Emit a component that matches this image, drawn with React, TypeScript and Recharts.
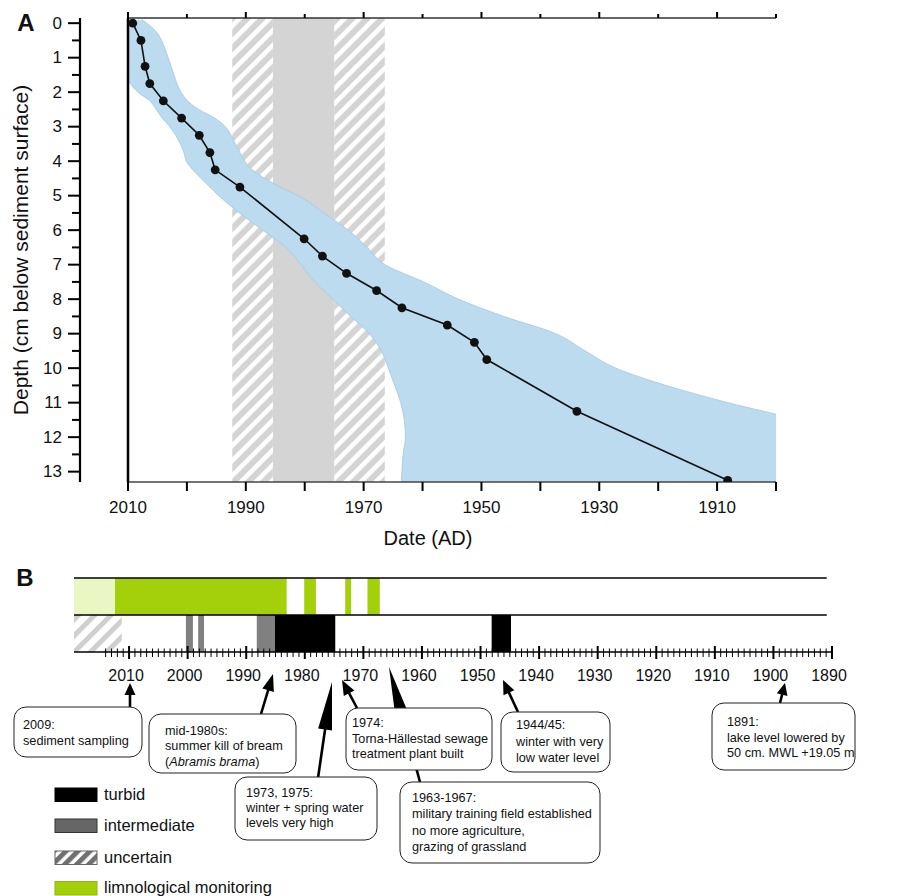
import React from 'react';
import { ComposedChart, Area, Line, XAxis, YAxis, ReferenceArea, ReferenceLine } from 'recharts';

const FONT = "'Liberation Sans', Arial, Helvetica, sans-serif";

// ---------- Panel A: age-depth model ----------
const sampleDepths = [0, 0.5, 1.25, 1.75, 2.25, 2.75, 3.25, 3.75, 4.25, 4.75, 6.25, 6.75, 7.25, 7.75, 8.25, 8.75, 9.25, 9.75, 11.25, 13.25];
const sampleYears = [2009.2, 2007.8, 2007.1, 2006.3, 2004.0, 2000.9, 1997.9, 1996.1, 1995.2, 1991.0, 1980.1, 1977.0, 1972.9, 1967.8, 1963.5, 1955.8, 1951.2, 1949.1, 1933.8, 1908.2];

const bandDepths = [-0.1, 0.25, 0.5, 0.75, 1.0, 1.25, 1.5, 1.75, 2.0, 2.25, 2.5, 2.75, 3.0, 3.25, 3.5, 3.75, 4.0, 4.25, 4.5, 4.75, 5.0, 5.5, 6.0, 6.5, 7.0, 7.5, 8.0, 8.5, 9.0, 9.5, 10.0, 10.5, 11.0, 11.5, 12.0, 12.5, 13.0, 13.3];
const bandYoungEdge = [2009.9, 2010.0, 2010.0, 2010.1, 2010.3, 2010.4, 2010.3, 2009.6, 2008.3, 2006.3, 2005.2, 2004.2, 2002.9, 2001.9, 2001.1, 2000.5, 2000.1, 1999.0, 1997.6, 1996.1, 1994.6, 1991.1, 1987.1, 1983.2, 1980.6, 1978.3, 1975.2, 1972.2, 1969.0, 1967.0, 1965.8, 1964.7, 1963.7, 1963.1, 1962.9, 1963.3, 1963.5, 1963.6];
const bandOldEdge = [2007.6, 2005.2, 2004.3, 2003.7, 2003.2, 2002.7, 2002.2, 2001.7, 2001.0, 1999.9, 1998.0, 1995.3, 1993.5, 1992.5, 1991.8, 1991.0, 1990.2, 1988.9, 1986.8, 1984.2, 1981.1, 1976.8, 1972.6, 1969.4, 1966.4, 1959.8, 1953.9, 1946.2, 1937.4, 1932.4, 1927.2, 1918.7, 1908.2, 1896.5, 1890, 1890, 1890, 1890];

const dateTicks = [2010, 2000, 1990, 1980, 1970, 1960, 1950, 1940, 1930, 1920, 1910, 1900];
const dateTickLabels = [2010, 1990, 1970, 1950, 1930, 1910];
const depthTicks = [0, 0.5, 1, 1.5, 2, 2.5, 3, 3.5, 4, 4.5, 5, 5.5, 6, 6.5, 7, 7.5, 8, 8.5, 9, 9.5, 10, 10.5, 11, 11.5, 12, 12.5, 13];
const uncertainWindows = [[1992.3, 1985.4], [1975.0, 1966.4]];
const greyWindows = [[1985.4, 1975.0]];

// ---------- Panel B: timeline ----------
const timelineMajorTicks = [2010, 2000, 1990, 1980, 1970, 1960, 1950, 1940, 1930, 1920, 1910, 1900, 1890];
const monitoringEarly = [[2019.4, 2012.4]];
const monitoringPeriods = [[2012.4, 1983.1], [1980.1, 1978.1], [1973.1, 1972.1], [1969.3, 1967.2]];
const uncertainPeriods = [[2019.4, 2011.25]];
const intermediatePeriods = [[2000.3, 1999.1], [1998.2, 1997.2], [1988.2, 1985.1]];
const turbidPeriods = [[1985.1, 1974.8], [1948.1, 1944.8]];

const timelineTicks: number[] = [];
for (let yr = 2014; yr >= 1890; yr--) timelineTicks.push(yr);

const bandData = bandDepths.map((d, i) => ({ depth: d, range: [bandYoungEdge[i], bandOldEdge[i]] }));
const sampleData = sampleDepths.map((d, i) => ({ depth: d, year: sampleYears[i] }));

// periods -> stepped ranged-area series (null rows break the area between periods)
function periodSeries(periods: number[][], lo: number, hi: number) {
  const out: { year: number; span: number[] | null }[] = [];
  periods.forEach(([a, b], i) => {
    if (i > 0) out.push({ year: (periods[i - 1][1] + a) / 2, span: null });
    out.push({ year: a, span: [lo, hi] });
    out.push({ year: b, span: [lo, hi] });
  });
  return out;
}

const DepthTick = (props: any) => {
  const { x, y, payload } = props;
  const v = payload.value;
  const major = Number.isInteger(v);
  return (
    <g>
      <line x1={x - (major ? 12 : 8)} x2={x} y1={y} y2={y} stroke="#000" strokeWidth={2} />
      {major && (
        <text x={x - 18} y={y} textAnchor="end" dominantBaseline="central" fontSize={17} fontFamily={FONT} fill="#111">{v}</text>
      )}
    </g>
  );
};

const DateTick = (props: any) => {
  const { x, y, payload } = props;
  const v = payload.value;
  return (
    <g>
      <line x1={x} x2={x} y1={y} y2={y + 9} stroke="#000" strokeWidth={2} />
      {dateTickLabels.includes(v) && (
        <text x={x} y={y + 25} textAnchor="middle" dominantBaseline="central" fontSize={17} fontFamily={FONT} fill="#111">{v}</text>
      )}
    </g>
  );
};

const TopTick = (props: any) => {
  const { x, y, payload } = props;
  const major = dateTickLabels.includes(payload.value);
  return <line x1={x} x2={x} y1={y} y2={y - (major ? 6 : 4)} stroke="#000" strokeWidth={2} />;
};

const TimelineTick = (props: any) => {
  const { x, y, payload } = props;
  const v = payload.value;
  const major = timelineMajorTicks.includes(v);
  return (
    <g>
      <line x1={x} x2={x} y1={y - (major ? 6 : 3.5)} y2={y + (major ? 7 : 5)} stroke="#000" strokeWidth={major ? 2 : 1} />
      {major && (
        <text x={x - 3} y={y + 23} textAnchor="middle" dominantBaseline="central" fontSize={16} fontFamily={FONT} fill="#111">{v}</text>
      )}
    </g>
  );
};

const DepthTitle = (props: any) => {
  const vb = props.viewBox || { x: 0, y: 18, width: 80, height: 464 };
  const cx = vb.x + 20;
  const cy = vb.y + vb.height / 2;
  return (
    <text x={cx} y={cy} transform={`rotate(-90 ${cx} ${cy})`} textAnchor="middle" dominantBaseline="central" fontSize={21} fontFamily={FONT} fill="#111">
      Depth (cm below sediment surface)
    </text>
  );
};

const DateTitle = (props: any) => {
  const vb = props.viewBox || { x: 80, y: 482, width: 696, height: 60 };
  return (
    <text x={vb.x + vb.width / 2} y={vb.y + 56} textAnchor="middle" dominantBaseline="central" fontSize={20} fontFamily={FONT} fill="#111">
      Date (AD)
    </text>
  );
};

// ---------- annotations ----------
type Note = { box: [number, number, number, number]; tx: number; ys: number[]; lines: React.ReactNode[] };
const notes: Note[] = [
  { box: [14, 707, 128, 50], tx: 23, ys: [725, 741], lines: ['2009:', 'sediment sampling'] },
  { box: [149, 714, 147, 59], tx: 165, ys: [731, 746, 762], lines: ['mid-1980s:', 'summer kill of bream', <>(<tspan fontStyle="italic">Abramis brama</tspan>)</>] },
  { box: [235, 777, 142, 63], tx: 246, ys: [793, 808, 823], lines: ['1973, 1975:', 'winter + spring water', 'levels very high'] },
  { box: [346, 708, 146, 62], tx: 352, ys: [723, 739, 754], lines: ['1974:', 'Torna-Hällestad sewage', 'treatment plant built'] },
  { box: [400, 782, 200, 81], tx: 412, ys: [798, 814, 831, 847], lines: ['1963-1967:', 'military training field established', 'no more agriculture,', 'grazing of grassland'] },
  { box: [501, 712, 109, 60], tx: 516, ys: [725, 742, 758], lines: ['1944/45:', 'winter with very', 'low water level'] },
  { box: [712, 703, 143, 67], tx: 727, ys: [722, 738, 753], lines: ['1891:', 'lake level lowered by', '50 cm. MWL +19.05 m'] },
];

const arrows: [number, number, number, number, number, number][] = [
  // tail x, tail y, tip x, tip y, head length, head half-width
  [130, 707, 130, 683, 12, 5.5],
  [261, 714, 273, 674, 17, 6],
  [318, 778, 332, 682, 48, 7],
  [357, 708, 342, 680, 15, 6],
  [420, 782, 389, 667, 55, 7.5],
  [518, 712, 503, 680, 14, 6],
  [780, 703, 785, 683, 12, 5.5],
];

function Arrow({ a }: { a: [number, number, number, number, number, number] }) {
  const [x1, y1, x2, y2, hl, hw] = a;
  const dx = x2 - x1, dy = y2 - y1;
  const L = Math.hypot(dx, dy);
  const ux = dx / L, uy = dy / L;
  const bx = x2 - ux * hl, by = y2 - uy * hl;
  const px = -uy, py = ux;
  return (
    <g>
      <line x1={x1} y1={y1} x2={bx + ux * 2} y2={by + uy * 2} stroke="#000" strokeWidth={2.6} />
      <polygon points={`${x2},${y2} ${bx + px * hw},${by + py * hw} ${bx - px * hw},${by - py * hw}`} fill="#000" />
    </g>
  );
}

const legendItems = [
  { label: 'turbid', fill: '#000', stroke: '#000', y: 788 },
  { label: 'intermediate', fill: '#666', stroke: '#333', y: 819 },
  { label: 'uncertain', fill: 'url(#hatchLegend)', stroke: '#666', y: 851 },
  { label: 'limnological monitoring', fill: '#a4cf0b', stroke: '#8fb80a', y: 881.5 },
];

export default function App() {
  return (
    <div style={{ position: 'absolute', left: 0, top: 0, width: 905, height: 896, background: '#fff', fontFamily: FONT, overflow: 'hidden' }}>
      <svg width={0} height={0} style={{ position: 'absolute' }}>
        <defs>
          <pattern id="hatchA" patternUnits="userSpaceOnUse" width={10.6} height={10.6} patternTransform="rotate(45)">
            <rect x={0} y={0} width={10.6} height={10.6} fill="#d4d4d4" />
            <rect x={0} y={0} width={4.6} height={10.6} fill="#ffffff" />
          </pattern>
          <pattern id="hatchB" patternUnits="userSpaceOnUse" width={11.5} height={11.5} patternTransform="rotate(45)">
            <rect x={0} y={0} width={11.5} height={11.5} fill="#ffffff" />
            <rect x={0} y={0} width={5} height={11.5} fill="#cfcfcf" />
          </pattern>
          <pattern id="hatchLegend" patternUnits="userSpaceOnUse" width={8.5} height={8.5} patternTransform="rotate(45)">
            <rect x={0} y={0} width={8.5} height={8.5} fill="#ffffff" />
            <rect x={0} y={0} width={5} height={8.5} fill="#707070" />
          </pattern>
        </defs>
      </svg>

      {/* Panel A */}
      <div style={{ position: 'absolute', left: 0, top: 0 }}>
        <ComposedChart width={905} height={560} layout="vertical" margin={{ top: 17, right: 129, bottom: 18, left: 0 }}>
          <XAxis
            type="number"
            domain={[1900, 2010]}
            reversed
            allowDataOverflow
            padding={{ left: 48, right: 0 }}
            ticks={dateTicks}
            interval={0}
            tick={DateTick}
            tickLine={false}
            tickSize={0}
            tickMargin={0}
            axisLine={false}
            height={60}
            label={DateTitle}
          />
          <XAxis
            xAxisId="top"
            orientation="top"
            type="number"
            domain={[1900, 2010]}
            reversed
            allowDataOverflow
            padding={{ left: 48, right: 0 }}
            ticks={dateTicks}
            interval={0}
            tick={TopTick}
            tickLine={false}
            tickSize={0}
            tickMargin={0}
            axisLine={false}
            height={1}
          />
          <YAxis
            type="number"
            dataKey="depth"
            domain={[-0.15, 13.3]}
            allowDataOverflow
            ticks={depthTicks}
            interval={0}
            tick={DepthTick}
            tickLine={false}
            tickSize={0}
            tickMargin={0}
            axisLine={{ stroke: '#000', strokeWidth: 2.2 }}
            width={80}
            label={DepthTitle}
          />
          {uncertainWindows.map(([a, b], i) => (
            <ReferenceArea key={`u${i}`} x1={a} x2={b} fill="url(#hatchA)" fillOpacity={1} stroke="none" ifOverflow="visible" zIndex={50} />
          ))}
          {greyWindows.map(([a, b], i) => (
            <ReferenceArea key={`g${i}`} x1={a} x2={b} fill="#d4d4d4" fillOpacity={1} stroke="none" ifOverflow="visible" zIndex={50} />
          ))}
          <Area
            data={bandData}
            dataKey="range"
            type="monotone"
            fill="#bcdbef"
            fillOpacity={1}
            stroke="#a9cfe8"
            strokeWidth={1}
            isAnimationActive={false}
            dot={false}
            activeDot={false}
          />
          <Line
            data={sampleData}
            dataKey="year"
            type="linear"
            stroke="#111"
            strokeWidth={1.6}
            dot={{ r: 4.4, fill: '#111', stroke: 'none' }}
            activeDot={false}
            isAnimationActive={false}
          />
          <ReferenceLine segment={[{ x: 2010, y: -0.15 }, { x: 1900, y: -0.15 }]} stroke="#333" strokeWidth={1.3} ifOverflow="visible" />
          <ReferenceLine segment={[{ x: 2010, y: 13.3 }, { x: 1900, y: 13.3 }]} stroke="#444" strokeWidth={1.3} ifOverflow="visible" />
          <ReferenceLine x={2010} stroke="#000" strokeWidth={2.5} ifOverflow="visible" />
        </ComposedChart>
      </div>

      {/* Panel B */}
      <div style={{ position: 'absolute', left: 0, top: 560 }}>
        <ComposedChart width={905} height={150} margin={{ top: 18, right: 73, bottom: 18, left: 74 }}>
          <XAxis
            type="number"
            dataKey="year"
            domain={[1890, 2019.4]}
            reversed
            allowDataOverflow
            ticks={timelineTicks}
            interval={0}
            tick={TimelineTick}
            tickLine={false}
            tickSize={0}
            tickMargin={0}
            axisLine={{ stroke: '#000', strokeWidth: 1.5 }}
            height={40}
          />
          <YAxis type="number" domain={[0, 2]} allowDataOverflow hide />
          <Area data={periodSeries(monitoringEarly, 1, 2)} dataKey="span" type="linear" fill="#eaf6c4" fillOpacity={1} stroke="none" isAnimationActive={false} activeDot={false} dot={false} />
          <Area data={periodSeries(monitoringPeriods, 1, 2)} dataKey="span" type="linear" fill="#a4cf0b" fillOpacity={1} stroke="none" isAnimationActive={false} activeDot={false} dot={false} />
          <Area data={periodSeries(uncertainPeriods, 0, 1)} dataKey="span" type="linear" fill="url(#hatchB)" fillOpacity={1} stroke="none" isAnimationActive={false} activeDot={false} dot={false} />
          <Area data={periodSeries(intermediatePeriods, 0, 1)} dataKey="span" type="linear" fill="#808080" fillOpacity={1} stroke="none" isAnimationActive={false} activeDot={false} dot={false} />
          <Area data={periodSeries(turbidPeriods, 0, 1)} dataKey="span" type="linear" fill="#000" fillOpacity={1} stroke="none" isAnimationActive={false} activeDot={false} dot={false} />
          <ReferenceLine segment={[{ x: 2019.4, y: 2 }, { x: 1890.9, y: 2 }]} stroke="#000" strokeWidth={1.3} ifOverflow="visible" />
          <ReferenceLine segment={[{ x: 2019.4, y: 1 }, { x: 1890.9, y: 1 }]} stroke="#000" strokeWidth={1.3} ifOverflow="visible" />
        </ComposedChart>
      </div>

      {/* Overlay: panel letters, annotations, legend */}
      <svg width={905} height={896} style={{ position: 'absolute', left: 0, top: 0, pointerEvents: 'none' }}>
        <text x={26} y={22} textAnchor="middle" dominantBaseline="central" fontSize={24} fontWeight="bold" fontFamily={FONT} fill="#111">A</text>
        <text x={25} y={577} textAnchor="middle" dominantBaseline="central" fontSize={24} fontWeight="bold" fontFamily={FONT} fill="#111">B</text>

        {arrows.map((a, i) => <Arrow key={i} a={a} />)}
        {notes.map((n, i) => (
          <g key={i}>
            <rect x={n.box[0]} y={n.box[1]} width={n.box[2]} height={n.box[3]} rx={12} ry={12} fill="#fff" stroke="#222" strokeWidth={1} />
            {n.lines.map((l, j) => (
              <text key={j} x={n.tx} y={n.ys[j]} dominantBaseline="central" fontSize={12.7} fontFamily={FONT} fill="#111">{l}</text>
            ))}
          </g>
        ))}

        {legendItems.map((it, i) => (
          <g key={i}>
            <rect x={55} y={it.y} width={42} height={13.5} fill={it.fill} stroke={it.stroke} strokeWidth={1} />
            <text x={104} y={it.y + 5.5} dominantBaseline="central" fontSize={16.5} fontFamily={FONT} fill="#111">{it.label}</text>
          </g>
        ))}
      </svg>
    </div>
  );
}
